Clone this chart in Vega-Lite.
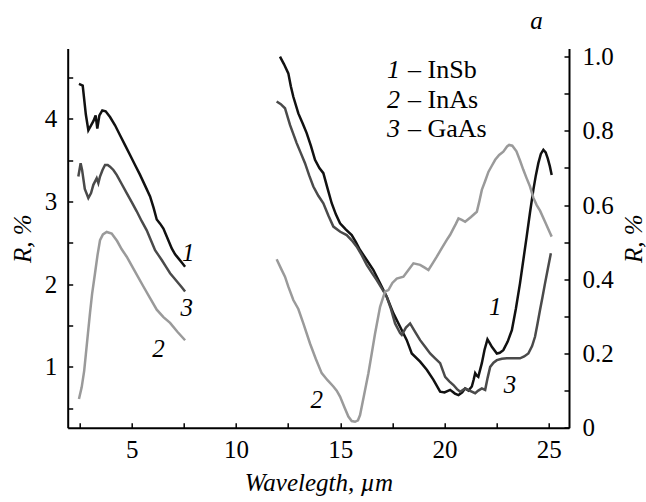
{
  "$schema": "https://vega.github.io/schema/vega-lite/v6.json",
  "width": 501.3,
  "height": 379.2,
  "autosize": "none",
  "padding": {"left": 67.7, "top": 48.5, "right": 77, "bottom": 74.3},
  "config": {
    "view": {"stroke": null},
    "font": "Liberation Serif",
    "axis": {
      "grid": false,
      "domainColor": "#000",
      "domainWidth": 2,
      "tickColor": "#000",
      "tickWidth": 1.5,
      "tickSize": -5,
      "labelFont": "Liberation Serif",
      "labelFontSize": 25,
      "labelColor": "#000",
      "titleFont": "Liberation Serif",
      "titleFontSize": 25,
      "titleFontWeight": "normal",
      "titleColor": "#000"
    }
  },
  "datasets": {
    "left": [
      {"s":"1","x":2.47,"R":4.42},{"s":"1","x":2.65,"R":4.40},{"s":"1","x":2.8,"R":4.05},{"s":"1","x":2.92,"R":3.86},{"s":"1","x":3.05,"R":3.92},{"s":"1","x":3.16,"R":3.97},{"s":"1","x":3.27,"R":4.04},{"s":"1","x":3.35,"R":3.88},{"s":"1","x":3.45,"R":4.04},{"s":"1","x":3.59,"R":4.10},{"s":"1","x":3.75,"R":4.09},{"s":"1","x":3.96,"R":4.02},{"s":"1","x":4.2,"R":3.92},{"s":"1","x":4.44,"R":3.80},{"s":"1","x":4.68,"R":3.68},{"s":"1","x":4.92,"R":3.56},{"s":"1","x":5.16,"R":3.44},{"s":"1","x":5.40,"R":3.32},{"s":"1","x":5.64,"R":3.19},{"s":"1","x":5.88,"R":3.06},{"s":"1","x":6.05,"R":2.92},{"s":"1","x":6.20,"R":2.78},{"s":"1","x":6.36,"R":2.73},{"s":"1","x":6.52,"R":2.67},{"s":"1","x":6.72,"R":2.55},{"s":"1","x":6.92,"R":2.43},{"s":"1","x":7.08,"R":2.36},{"s":"1","x":7.24,"R":2.31},{"s":"1","x":7.40,"R":2.26},{"s":"1","x":7.56,"R":2.21},
      {"s":"3","x":2.44,"R":3.30},{"s":"3","x":2.55,"R":3.46},{"s":"3","x":2.62,"R":3.38},{"s":"3","x":2.75,"R":3.15},{"s":"3","x":2.92,"R":3.04},{"s":"3","x":3.05,"R":3.10},{"s":"3","x":3.16,"R":3.20},{"s":"3","x":3.32,"R":3.28},{"s":"3","x":3.40,"R":3.22},{"s":"3","x":3.48,"R":3.30},{"s":"3","x":3.6,"R":3.38},{"s":"3","x":3.72,"R":3.44},{"s":"3","x":3.85,"R":3.44},{"s":"3","x":3.96,"R":3.42},{"s":"3","x":4.12,"R":3.38},{"s":"3","x":4.28,"R":3.32},{"s":"3","x":4.52,"R":3.21},{"s":"3","x":4.76,"R":3.10},{"s":"3","x":5.0,"R":2.99},{"s":"3","x":5.24,"R":2.88},{"s":"3","x":5.48,"R":2.76},{"s":"3","x":5.72,"R":2.65},{"s":"3","x":5.92,"R":2.53},{"s":"3","x":6.12,"R":2.41},{"s":"3","x":6.28,"R":2.35},{"s":"3","x":6.44,"R":2.29},{"s":"3","x":6.64,"R":2.21},{"s":"3","x":6.84,"R":2.13},{"s":"3","x":7.04,"R":2.07},{"s":"3","x":7.24,"R":2.01},{"s":"3","x":7.40,"R":1.96},{"s":"3","x":7.56,"R":1.91},
      {"s":"2","x":2.47,"R":0.61},{"s":"2","x":2.6,"R":0.75},{"s":"2","x":2.72,"R":0.95},{"s":"2","x":2.8,"R":1.15},{"s":"2","x":2.9,"R":1.4},{"s":"2","x":3.0,"R":1.65},{"s":"2","x":3.1,"R":1.88},{"s":"2","x":3.24,"R":2.13},{"s":"2","x":3.36,"R":2.35},{"s":"2","x":3.48,"R":2.53},{"s":"2","x":3.62,"R":2.6},{"s":"2","x":3.8,"R":2.63},{"s":"2","x":4.04,"R":2.61},{"s":"2","x":4.3,"R":2.52},{"s":"2","x":4.52,"R":2.42},{"s":"2","x":4.76,"R":2.33},{"s":"2","x":5.16,"R":2.15},{"s":"2","x":5.56,"R":1.97},{"s":"2","x":5.88,"R":1.83},{"s":"2","x":6.20,"R":1.69},{"s":"2","x":6.52,"R":1.60},{"s":"2","x":6.84,"R":1.53},{"s":"2","x":7.2,"R":1.42},{"s":"2","x":7.56,"R":1.32}
    ],
    "right": [
      {"s":"1","x":12.11,"R":1.0},{"s":"1","x":12.3,"R":0.98},{"s":"1","x":12.51,"R":0.955},{"s":"1","x":12.63,"R":0.92},{"s":"1","x":12.75,"R":0.892},{"s":"1","x":12.99,"R":0.847},{"s":"1","x":13.2,"R":0.82},{"s":"1","x":13.39,"R":0.794},{"s":"1","x":13.59,"R":0.76},{"s":"1","x":13.79,"R":0.722},{"s":"1","x":14.0,"R":0.70},{"s":"1","x":14.19,"R":0.686},{"s":"1","x":14.39,"R":0.645},{"s":"1","x":14.59,"R":0.605},{"s":"1","x":14.79,"R":0.575},{"s":"1","x":14.99,"R":0.551},{"s":"1","x":15.25,"R":0.535},{"s":"1","x":15.55,"R":0.519},{"s":"1","x":15.75,"R":0.50},{"s":"1","x":15.95,"R":0.479},{"s":"1","x":16.27,"R":0.452},{"s":"1","x":16.59,"R":0.425},{"s":"1","x":16.91,"R":0.389},{"s":"1","x":17.23,"R":0.353},{"s":"1","x":17.55,"R":0.308},{"s":"1","x":17.87,"R":0.272},{"s":"1","x":18.19,"R":0.236},{"s":"1","x":18.43,"R":0.200},{"s":"1","x":18.83,"R":0.178},{"s":"1","x":19.15,"R":0.156},{"s":"1","x":19.47,"R":0.129},{"s":"1","x":19.79,"R":0.097},{"s":"1","x":20.0,"R":0.095},{"s":"1","x":20.27,"R":0.102},{"s":"1","x":20.5,"R":0.092},{"s":"1","x":20.67,"R":0.088},{"s":"1","x":20.85,"R":0.095},{"s":"1","x":20.99,"R":0.106},{"s":"1","x":21.15,"R":0.10},{"s":"1","x":21.31,"R":0.111},{"s":"1","x":21.4,"R":0.13},{"s":"1","x":21.47,"R":0.147},{"s":"1","x":21.55,"R":0.14},{"s":"1","x":21.62,"R":0.137},{"s":"1","x":21.79,"R":0.174},{"s":"1","x":21.92,"R":0.21},{"s":"1","x":22.06,"R":0.238},{"s":"1","x":22.17,"R":0.228},{"s":"1","x":22.27,"R":0.218},{"s":"1","x":22.51,"R":0.200},{"s":"1","x":22.65,"R":0.202},{"s":"1","x":22.82,"R":0.209},{"s":"1","x":23.03,"R":0.232},{"s":"1","x":23.23,"R":0.263},{"s":"1","x":23.42,"R":0.32},{"s":"1","x":23.62,"R":0.389},{"s":"1","x":23.78,"R":0.452},{"s":"1","x":23.94,"R":0.515},{"s":"1","x":24.1,"R":0.58},{"s":"1","x":24.26,"R":0.641},{"s":"1","x":24.38,"R":0.68},{"s":"1","x":24.50,"R":0.713},{"s":"1","x":24.62,"R":0.738},{"s":"1","x":24.74,"R":0.749},{"s":"1","x":24.85,"R":0.742},{"s":"1","x":24.95,"R":0.726},{"s":"1","x":25.05,"R":0.705},{"s":"1","x":25.14,"R":0.681},
      {"s":"3","x":11.95,"R":0.879},{"s":"3","x":12.15,"R":0.872},{"s":"3","x":12.35,"R":0.861},{"s":"3","x":12.59,"R":0.816},{"s":"3","x":12.91,"R":0.767},{"s":"3","x":13.11,"R":0.74},{"s":"3","x":13.31,"R":0.713},{"s":"3","x":13.51,"R":0.68},{"s":"3","x":13.71,"R":0.650},{"s":"3","x":13.95,"R":0.625},{"s":"3","x":14.19,"R":0.605},{"s":"3","x":14.43,"R":0.572},{"s":"3","x":14.67,"R":0.542},{"s":"3","x":15.0,"R":0.528},{"s":"3","x":15.31,"R":0.519},{"s":"3","x":15.55,"R":0.505},{"s":"3","x":15.79,"R":0.488},{"s":"3","x":16.03,"R":0.465},{"s":"3","x":16.27,"R":0.439},{"s":"3","x":16.51,"R":0.418},{"s":"3","x":16.75,"R":0.398},{"s":"3","x":17.0,"R":0.375},{"s":"3","x":17.23,"R":0.353},{"s":"3","x":17.43,"R":0.32},{"s":"3","x":17.63,"R":0.281},{"s":"3","x":17.87,"R":0.255},{"s":"3","x":17.95,"R":0.250},{"s":"3","x":18.15,"R":0.27},{"s":"3","x":18.35,"R":0.281},{"s":"3","x":18.59,"R":0.258},{"s":"3","x":18.83,"R":0.236},{"s":"3","x":19.07,"R":0.218},{"s":"3","x":19.31,"R":0.200},{"s":"3","x":19.55,"R":0.187},{"s":"3","x":19.79,"R":0.174},{"s":"3","x":20.03,"R":0.137},{"s":"3","x":20.23,"R":0.125},{"s":"3","x":20.43,"R":0.115},{"s":"3","x":20.6,"R":0.104},{"s":"3","x":20.75,"R":0.097},{"s":"3","x":20.99,"R":0.106},{"s":"3","x":21.2,"R":0.10},{"s":"3","x":21.47,"R":0.093},{"s":"3","x":21.62,"R":0.10},{"s":"3","x":21.79,"R":0.106},{"s":"3","x":21.95,"R":0.102},{"s":"3","x":22.07,"R":0.135},{"s":"3","x":22.19,"R":0.164},{"s":"3","x":22.35,"R":0.175},{"s":"3","x":22.51,"R":0.182},{"s":"3","x":22.75,"R":0.186},{"s":"3","x":22.99,"R":0.187},{"s":"3","x":23.3,"R":0.187},{"s":"3","x":23.62,"R":0.187},{"s":"3","x":23.82,"R":0.192},{"s":"3","x":24.02,"R":0.200},{"s":"3","x":24.2,"R":0.22},{"s":"3","x":24.34,"R":0.245},{"s":"3","x":24.46,"R":0.28},{"s":"3","x":24.58,"R":0.317},{"s":"3","x":24.70,"R":0.352},{"s":"3","x":24.82,"R":0.389},{"s":"3","x":24.96,"R":0.43},{"s":"3","x":25.10,"R":0.470},
      {"s":"2","x":11.95,"R":0.454},{"s":"2","x":12.15,"R":0.43},{"s":"2","x":12.35,"R":0.407},{"s":"2","x":12.51,"R":0.38},{"s":"2","x":12.75,"R":0.344},{"s":"2","x":12.99,"R":0.32},{"s":"2","x":13.23,"R":0.281},{"s":"2","x":13.55,"R":0.227},{"s":"2","x":13.83,"R":0.185},{"s":"2","x":14.11,"R":0.147},{"s":"2","x":14.39,"R":0.128},{"s":"2","x":14.67,"R":0.111},{"s":"2","x":14.83,"R":0.10},{"s":"2","x":14.99,"R":0.084},{"s":"2","x":15.2,"R":0.055},{"s":"2","x":15.39,"R":0.030},{"s":"2","x":15.55,"R":0.018},{"s":"2","x":15.71,"R":0.016},{"s":"2","x":15.85,"R":0.02},{"s":"2","x":15.95,"R":0.034},{"s":"2","x":16.15,"R":0.09},{"s":"2","x":16.35,"R":0.147},{"s":"2","x":16.51,"R":0.20},{"s":"2","x":16.67,"R":0.254},{"s":"2","x":16.91,"R":0.326},{"s":"2","x":17.15,"R":0.367},{"s":"2","x":17.31,"R":0.371},{"s":"2","x":17.5,"R":0.39},{"s":"2","x":17.71,"R":0.402},{"s":"2","x":18.03,"R":0.407},{"s":"2","x":18.27,"R":0.425},{"s":"2","x":18.51,"R":0.443},{"s":"2","x":18.83,"R":0.439},{"s":"2","x":19.03,"R":0.432},{"s":"2","x":19.23,"R":0.425},{"s":"2","x":19.43,"R":0.443},{"s":"2","x":19.63,"R":0.461},{"s":"2","x":19.87,"R":0.484},{"s":"2","x":20.11,"R":0.506},{"s":"2","x":20.27,"R":0.52},{"s":"2","x":20.43,"R":0.537},{"s":"2","x":20.55,"R":0.55},{"s":"2","x":20.67,"R":0.564},{"s":"2","x":20.83,"R":0.56},{"s":"2","x":20.99,"R":0.555},{"s":"2","x":21.27,"R":0.568},{"s":"2","x":21.55,"R":0.582},{"s":"2","x":21.67,"R":0.61},{"s":"2","x":21.79,"R":0.641},{"s":"2","x":21.95,"R":0.665},{"s":"2","x":22.11,"R":0.690},{"s":"2","x":22.27,"R":0.706},{"s":"2","x":22.43,"R":0.722},{"s":"2","x":22.62,"R":0.735},{"s":"2","x":22.82,"R":0.744},{"s":"2","x":23.0,"R":0.758},{"s":"2","x":23.1,"R":0.762},{"s":"2","x":23.25,"R":0.76},{"s":"2","x":23.45,"R":0.745},{"s":"2","x":23.62,"R":0.72},{"s":"2","x":23.78,"R":0.695},{"s":"2","x":23.94,"R":0.672},{"s":"2","x":24.1,"R":0.65},{"s":"2","x":24.26,"R":0.62},{"s":"2","x":24.42,"R":0.60},{"s":"2","x":24.58,"R":0.585},{"s":"2","x":24.82,"R":0.555},{"s":"2","x":25.06,"R":0.525},{"s":"2","x":25.14,"R":0.515}
    ],
    "leftLabels": [
      {"x":7.71,"R":2.37,"t":"1"},{"x":7.64,"R":1.71,"t":"3"},{"x":6.28,"R":1.22,"t":"2"}
    ],
    "rightLabels": [
      {"x":13.87,"R":0.075,"t":"2"},{"x":22.43,"R":0.326,"t":"1"},{"x":23.14,"R":0.115,"t":"3"},{"x":24.41,"R":1.096,"t":"a"}
    ],
    "legendNum": [
      {"x":17.87,"R":0.964,"t":"1"},{"x":17.87,"R":0.883,"t":"2"},{"x":17.87,"R":0.804,"t":"3"}
    ],
    "legendName": [
      {"x":18.25,"R":0.964,"t":"– InSb"},{"x":18.25,"R":0.883,"t":"– InAs"},{"x":18.25,"R":0.804,"t":"– GaAs"}
    ]
  },
  "layer": [
    {
      "encoding": {
        "x": {
          "field": "x", "type": "quantitative",
          "scale": {"domain": [1.93, 25.97], "nice": false, "zero": false},
          "axis": {
            "orient": "bottom",
            "values": [2.5, 5, 7.5, 10, 12.5, 15, 17.5, 20, 22.5, 25],
            "labelExpr": "datum.value % 5 === 0 ? datum.label : ''",
            "labelPadding": 15,
            "title": "Wavelegth, µm",
            "titleFontStyle": "italic",
            "titlePadding": 8
          }
        },
        "y": {
          "field": "R", "type": "quantitative",
          "scale": {"domain": [0.262, 4.849], "nice": false, "zero": false},
          "axis": {
            "orient": "left",
            "values": [0.5, 1, 1.5, 2, 2.5, 3, 3.5, 4, 4.5],
            "labelExpr": "datum.value % 1 === 0 ? format(datum.value, 'd') : ''",
            "labelPadding": 16,
            "title": "R, %",
            "titleFontStyle": "italic",
            "titlePadding": 9
          }
        }
      },
      "layer": [
        {
          "data": {"name": "left"},
          "mark": {"type": "line", "strokeWidth": 2.5},
          "encoding": {
            "color": {"field": "s", "type": "nominal", "scale": {"domain": ["1", "2", "3"], "range": ["#111111", "#9a9a9a", "#4a4a4a"]}, "legend": null},
            "detail": {"field": "s"}
          }
        },
        {
          "data": {"name": "leftLabels"},
          "mark": {"type": "text", "fontSize": 25, "fontStyle": "italic", "color": "#000"},
          "encoding": {"text": {"field": "t"}}
        }
      ]
    },
    {
      "encoding": {
        "x": {
          "field": "x", "type": "quantitative",
          "scale": {"domain": [1.93, 25.97], "nice": false, "zero": false},
          "axis": {
            "orient": "bottom",
            "values": [2.5, 5, 7.5, 10, 12.5, 15, 17.5, 20, 22.5, 25],
            "labelExpr": "datum.value % 5 === 0 ? datum.label : ''",
            "labelPadding": 15,
            "title": "Wavelegth, µm",
            "titleFontStyle": "italic",
            "titlePadding": 8
          }
        },
        "y": {
          "field": "R", "type": "quantitative",
          "scale": {"domain": [0, 1.022], "nice": false, "zero": false},
          "axis": {
            "orient": "right",
            "values": [0, 0.1, 0.2, 0.3, 0.4, 0.5, 0.6, 0.7, 0.8, 0.9, 1.0],
            "labelExpr": "datum.value == 0 ? '0' : (round(datum.value * 10) % 2 == 0 ? format(datum.value, '.1f') : '')",
            "labelPadding": 18,
            "title": "R, %",
            "titleFontStyle": "italic",
            "titleAngle": 270,
            "titleBaseline": "top",
            "titlePadding": 8
          }
        }
      },
      "layer": [
        {
          "data": {"name": "right"},
          "mark": {"type": "line", "strokeWidth": 2.5},
          "encoding": {
            "color": {"field": "s", "type": "nominal", "scale": {"domain": ["1", "2", "3"], "range": ["#111111", "#9a9a9a", "#4a4a4a"]}, "legend": null},
            "detail": {"field": "s"}
          }
        },
        {
          "data": {"name": "rightLabels"},
          "mark": {"type": "text", "fontSize": 25, "fontStyle": "italic", "color": "#000"},
          "encoding": {"text": {"field": "t"}}
        },
        {
          "data": {"name": "legendNum"},
          "mark": {"type": "text", "fontSize": 26, "fontStyle": "italic", "align": "right", "color": "#000"},
          "encoding": {"text": {"field": "t"}}
        },
        {
          "data": {"name": "legendName"},
          "mark": {"type": "text", "fontSize": 26, "align": "left", "color": "#000"},
          "encoding": {"text": {"field": "t"}}
        }
      ]
    }
  ],
  "resolve": {"scale": {"y": "independent", "color": "shared"}}
}
